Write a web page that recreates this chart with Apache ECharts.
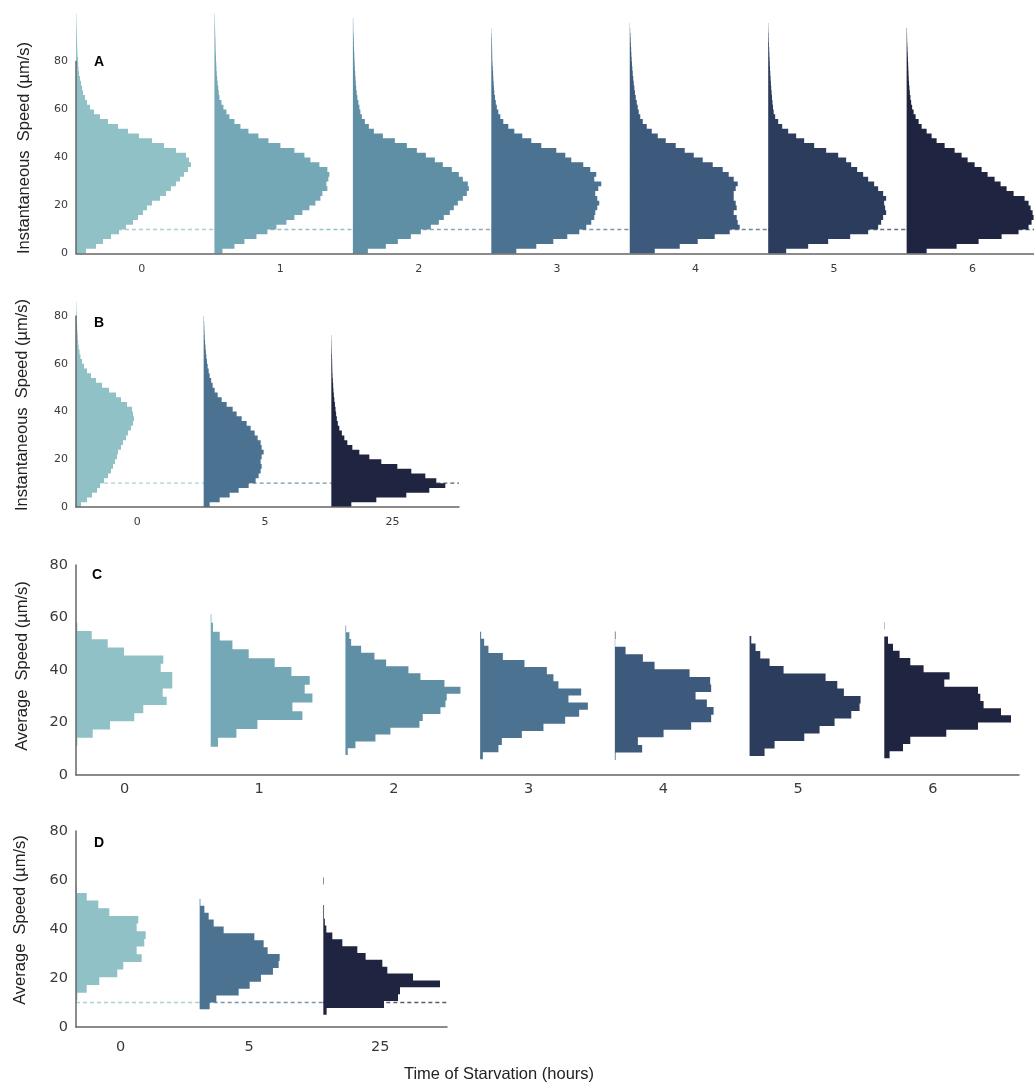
<!DOCTYPE html>
<html><head><meta charset="utf-8">
<script src="https://cdn.jsdelivr.net/npm/echarts@6/dist/echarts.min.js"></script>
<style>html,body{margin:0;padding:0;background:#fff}#chart{width:1034px;height:1084px}</style>
</head><body><div id="chart"></div>
<script>
// ---------- DATA ----------
// Category labels (time of starvation, hours)
const hoursA = ['0', '1', '2', '3', '4', '5', '6'];
const hoursB = ['0', '5', '25'];
const hoursC = ['0', '1', '2', '3', '4', '5', '6'];
const hoursD = ['0', '5', '25'];
const yTicks = [0, 20, 40, 60, 80];
const thresholdSpeed = 10; // dashed threshold line (µm/s)

// Panel A: instantaneous speed histograms, bins of 2 µm/s from 0 (relative frequency, a.u.)
const binA = { lo: 0, bw: 2 };
const instA0 = [10,20,27,35,43,50,57,62,67,71,76,84,90,95,100,104,108,112,115,113,110,100,88,76,63,52,42,32,24,18,14,11,9,7,6,5,4,3,2.5,2.2,2,1.5,1.3,1.1,1,0.8,0.7,0.5,0.4,0.3];
const instA1 = [8,20,30,42,53,62,72,80,88,95,101,106,108,113,112,114,115,113,105,96,90,80,66,54,44,34,26,20,15,12,9,7,5,4.3,3.8,3.2,2.7,2.3,2,1.8,1.6,1.4,1.2,1.1,1,0.8,0.7,0.6,0.4,0.3];
const instA2 = [15,33,45,58,68,78,86,91,97,101,105,110,114,116,115,110,106,99,90,82,73,64,54,42,30,21,16,12,9,7.5,6.5,5.5,4.5,3.8,3.3,2.9,2.6,2.3,2,1.8,1.6,1.4,1.2,1,0.9,0.7,0.5,0.4,0.3,0];
const instA3 = [25,45,62,76,88,95,100,103,104,106,108,106,104,107,110,103,105,99,92,80,74,65,50,40,31,23,17,12,9,7,5.5,4.5,3.7,3,2.6,2.3,2,1.8,1.5,1.2,1,0.9,0.8,0.7,0.6,0.4,0.2,0,0,0];
const instA4 = [25,50,68,85,100,110,108,107,104,107,106,104,104,106,108,104,99,93,83,73,64,55,46,36,28,22,17,13,10.5,9,8,7,6,5.2,4.6,4,3.5,3,2.6,2.2,1.9,1.6,1.4,1.1,0.9,0.7,0.4,0.2,0,0];
const instA5 = [18,40,60,82,100,110,113,115,118,117,116,118,115,110,106,100,95,89,83,78,70,58,46,36,28,20,14,10,7,5.5,4.8,4.3,3.8,3.4,3,2.7,2.4,2.1,1.8,1.6,1.4,1.2,1,0.8,0.6,0.5,0.3,0.2,0,0];
const instA6 = [20,50,72,95,112,122,125,127,126,124,122,118,107,100,94,88,81,75,68,61,55,48,38,30,25,20,15,12,9,7,5.5,4.5,3.8,3.2,2.8,2.4,2.1,1.9,1.7,1.5,1.3,1.1,0.9,0.7,0.5,0.4,0.3,0,0,0];

// Panel B: instantaneous speed, bins of 2 µm/s from 0
const binB = { lo: 0, bw: 2 };
const instB0 = [5,11,16,21,24,28,32,35,37,39,41,42,45,47,50,52,55,57,58,57,56,51,45,40,33,26,20,15,11,8,6,4.5,3.5,2.7,2.2,1.8,1.5,1.2,1,0.8,0.6,0.4,0.3];
const instB5 = [6,16,26,35,45,52,55,57,58,57,58,60,58,57,54,51,47,43,38,33,29,23,18,14,11,9,7.5,6,5,4,3.3,2.7,2.2,1.8,1.4,1.1,0.9,0.7,0.5,0.3];
const instB25 = [20,45,75,98,114,105,94,80,66,50,38,28,21,16,13,10.5,8,6.5,5.5,4.8,4.2,3.6,3,2.5,2.1,1.8,1.5,1.2,1,0.9,0.8,0.7,0.5,0.4,0.3,0.2];

// Panel C: average speed histograms (first bin edge, bin width, frequencies)
const binC = [{lo:11.05,bw:3.13},{lo:10.8,bw:3.37},{lo:7.6,bw:2.6},{lo:6.0,bw:2.7},{lo:5.7,bw:2.88},{lo:7.2,bw:2.86},{lo:6.35,bw:2.73}];
const avgC0 = [1.3,16.7,34,58.3,67.3,90.7,86.7,96.3,96.3,84.7,87.3,48,31.7,15.7,1.3];
const avgC1 = [7.3,25.7,46.7,91.7,81.7,101.7,94,99,80.7,64,38,21.7,9,2.3,0.7];
const avgC2 = [2.3,10,30,45,74,77.3,95,100,101.3,115,99,75,63,40.7,29,15.7,5.7,4,0.7];
const avgC3 = [2.7,18.3,21.7,41.7,63.3,85,99,107.7,88.3,101,78.3,73.3,66.7,44.3,22.7,8.3,4,1];
const avgC4 = [0.7,27.3,23,48.7,76.3,96.3,98.7,92,80.7,96.3,95.3,74.7,39.7,28,10.7,0.3,0.7];
const avgC5 = [15,25,54.7,70,85,101.7,110,111,94.3,87.7,76,34,20,10.7,6,1.7];
const avgC6 = [5.3,18.7,26,62,93.7,126.7,116.7,99.3,96,93.7,60,65.3,39.3,26,15.3,8.7,3.7,0,0.3];

// Panel D: average speed histograms
const binD = [{lo:10.9,bw:3.13},{lo:7.2,bw:2.82},{lo:5.0,bw:2.8}];
const avgD0 = [1.3,10.7,23.3,41.3,47.3,65.7,60.7,68.3,69.7,60.7,62.3,33.3,22.3,10.7,0.7];
const avgD5 = [10,16.7,39,50,61.3,73.3,79,80,68,64,54.7,24,14,9,4.7,0.7];
const avgD25 = [3.3,60.7,74.7,76.7,116.7,89.7,64,59,42.3,34,19,9,3,1.5,0.7,0.7,0,0,0,0.5];

// ---------- STYLE ----------
const PAL = ['#90c1c6','#74a8b6','#5f8fa5','#4b7291','#3d597b','#2c3c5c','#1f2440'];
const PAL3 = ['#90c1c6','#4b7291','#1f2440'];

const panels = [
  { grid:{left:76, top:61.5, width:958, height:192}, xMax:6.92, labels:hoursA, hists:[instA0,instA1,instA2,instA3,instA4,instA5,instA6].map(w=>({lo:binA.lo,bw:binA.bw,w})),
    colors:PAL, scale:138.5, labelPos:hoursA.map((_,i)=>i+0.475), fs:11, xMargin:10, dashed:true },
  { grid:{left:76, top:316, width:383, height:191}, xMax:3, labels:hoursB, hists:[instB0,instB5,instB25].map(w=>({lo:binB.lo,bw:binB.bw,w})),
    colors:PAL3, scale:127.7, labelPos:hoursB.map((_,i)=>i+0.48), fs:11, xMargin:10, dashed:true },
  { grid:{left:76, top:565, width:943, height:210}, xMax:7, labels:hoursC, hists:[avgC0,avgC1,avgC2,avgC3,avgC4,avgC5,avgC6].map((w,i)=>({lo:binC[i].lo,bw:binC[i].bw,w})),
    colors:PAL, scale:134.7, labelPos:hoursC.map((_,i)=>i+0.36), fs:14.5, xMargin:7, dashed:false },
  { grid:{left:76, top:831, width:371, height:196}, xMax:3, labels:hoursD, hists:[avgD0,avgD5,avgD25].map((w,i)=>({lo:binD[i].lo,bw:binD[i].bw,w})),
    colors:PAL3, scale:123.7, labelPos:[0.36,1.40,2.46], fs:14.5, xMargin:13, dashed:true }
];

const grids=[], xAxes=[], yAxes=[], series=[];
panels.forEach((p, pi) => {
  grids.push(Object.assign({containLabel:false}, p.grid));
  const n = p.labels.length;
  xAxes.push({
    gridIndex:pi, type:'value', min:0, max:p.xMax, z:5,
    axisLine:{show:true, onZero:false, lineStyle:{color:'#666', width:1.5}},
    axisTick:{show:false}, splitLine:{show:false},
    axisLabel:{customValues:p.labelPos, formatter:(v)=>p.labels[Math.floor(v+1e-6)] ?? '',
      fontSize:p.fs, color:'#3a3a3a', margin:p.xMargin, fontFamily:'DejaVu Sans'}
  });
  yAxes.push({
    gridIndex:pi, type:'value', min:0, max:80, interval:20, z:5,
    axisLine:{show:true, lineStyle:{color:'#666', width:1.5}},
    axisTick:{show:false}, splitLine:{show:false},
    axisLabel:{fontSize:p.fs, color:'#3a3a3a', margin:8, fontFamily:'DejaVu Sans'}
  });
  if (p.dashed) {
    for (let i = 0; i < n; i++) {
      series.push({
        type:'line', xAxisIndex:pi, yAxisIndex:pi, silent:true, symbol:'none', z:1,
        data:[[i, thresholdSpeed],[i+1, thresholdSpeed]],
        lineStyle:{color:p.colors[i], width:1.3, type:[4,3], opacity:0.75}
      });
    }
  }
  series.push({
    type:'custom', xAxisIndex:pi, yAxisIndex:pi, silent:true, clip:false, z:3,
    data:p.hists.map((h,i)=>[i, h.lo]), encode:{x:0, y:1},
    renderItem:(params, api) => {
      const i = params.dataIndex, h = p.hists[i];
      const pts = [api.coord([i, h.lo])];
      h.w.forEach((w, k) => {
        const x = i + w / p.scale;
        pts.push(api.coord([x, h.lo + k*h.bw]));
        pts.push(api.coord([x, h.lo + (k+1)*h.bw]));
      });
      pts.push(api.coord([i, h.lo + h.w.length*h.bw]));
      return {type:'polygon', shape:{points:pts}, style:{fill:p.colors[i], stroke:null}};
    }
  });
});

const nameFont = 'Liberation Sans, Arial, sans-serif';
function vText(text, x, y) {
  return {type:'text', x:x, y:y, rotation:Math.PI/2,
    style:{text:text, font:'16.5px '+nameFont, fill:'#222', align:'center', verticalAlign:'middle'}};
}
function letter(t, x, y) {
  return {type:'text', x:x, y:y, style:{text:t, font:'bold 14px '+nameFont, fill:'#000', align:'center', verticalAlign:'middle'}};
}

const chart = echarts.init(document.getElementById('chart'), null, {renderer:'canvas'});
chart.setOption({
  animation:false, backgroundColor:'#fff',
  grid:grids, xAxis:xAxes, yAxis:yAxes, series:series,
  graphic:[
    vText('Instantaneous  Speed (µm/s)', 24, 148),
    vText('Instantaneous  Speed (µm/s)', 22.5, 405),
    vText('Average  Speed (µm/s)', 22, 666),
    vText('Average  Speed (µm/s)', 20, 920),
    letter('A', 99, 62), letter('B', 99, 323), letter('C', 97, 575), letter('D', 99, 843),
    {type:'text', x:499, y:1074, style:{text:'Time of Starvation (hours)', font:'16.5px '+nameFont, fill:'#222', align:'center', verticalAlign:'middle'}}
  ]
});
</script></body></html>
